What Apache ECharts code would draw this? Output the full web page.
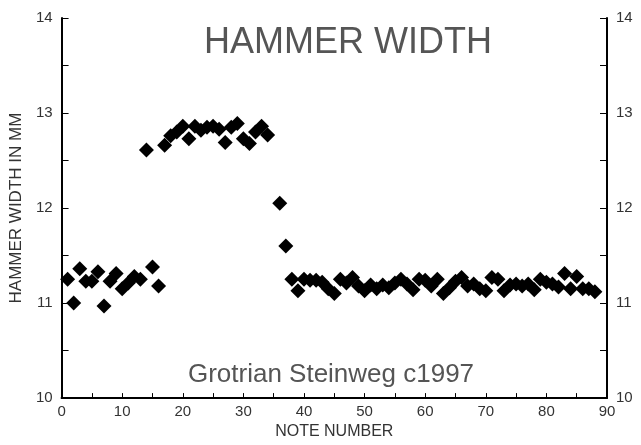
<!DOCTYPE html>
<html lang="en">
<head>
    <meta charset="UTF-8">
    <title>hammer width</title>
    <script src="https://cdn.jsdelivr.net/npm/echarts@6/dist/echarts.min.js"></script>
    <style>
        html, body { margin: 0; padding: 0; background: #fff; }
        #chart { width: 641px; height: 445px; }
    </style>
</head>
<body>
<div id="chart"></div>
<script>
    // note numbers and measured hammer widths (mm)
    var notes = [1, 2, 3, 4, 5, 6, 7, 8, 9, 10, 11, 12, 13, 14, 15, 16,
        17, 18, 19, 20, 21, 22, 23, 24, 25, 26, 27, 28, 29, 30, 31, 32, 33, 34,
        36, 37,
        38, 39, 40, 41, 42, 43, 44, 45, 46, 47, 48, 49, 50, 51, 52, 53, 54, 55, 56, 57,
        58, 59, 60, 61, 62, 63, 64, 65, 66, 67, 68, 69, 70, 71, 72, 73, 74, 75, 76, 77,
        78, 79, 80, 81, 82, 83, 84, 85, 86, 87, 88];
    var widths = [11.25, 11.0, 11.36, 11.23, 11.23, 11.33, 10.97, 11.23, 11.31, 11.15, 11.21, 11.28, 11.25, 12.61, 11.38, 11.18,
        12.66, 12.76, 12.80, 12.86, 12.73, 12.86, 12.82, 12.85, 12.86, 12.83, 12.69, 12.85, 12.89, 12.73, 12.68, 12.80, 12.86, 12.77,
        12.05, 11.60,
        11.25, 11.13, 11.25, 11.24, 11.24, 11.22, 11.15, 11.10, 11.25, 11.21, 11.27, 11.18, 11.13, 11.19, 11.15, 11.19, 11.16, 11.21, 11.25, 11.20,
        11.14, 11.25, 11.24, 11.18, 11.25, 11.10, 11.16, 11.23, 11.27, 11.18, 11.20, 11.15, 11.13, 11.27, 11.25, 11.13, 11.19, 11.20, 11.18, 11.20,
        11.14, 11.25, 11.22, 11.20, 11.17, 11.31, 11.15, 11.28, 11.15, 11.15, 11.12];

    var titleText = 'HAMMER WIDTH';
    var noteText = 'Grotrian Steinweg c1997';

    var source = [];
    for (var i = 0; i < notes.length; i++) {
        source.push([notes[i], widths[i]]);
    }

    var font = "'Liberation Sans', Arial, sans-serif";
    var labelStyle = {color: '#333', fontSize: 15, fontFamily: font};

    function yAxisCfg(pos) {
        return {
            type: 'value', position: pos, min: 10, max: 14, interval: 1,
            axisLine: {show: true, lineStyle: {color: '#000', width: 2}},
            axisTick: {show: true, inside: true, length: 7, lineStyle: {color: '#000'}},
            minorTick: {show: true, splitNumber: 2, length: 7, lineStyle: {color: '#000'}},
            splitLine: {show: false},
            axisLabel: Object.assign({margin: 9}, labelStyle)
        };
    }

    var myChart = echarts.init(document.getElementById('chart'), null, {renderer: 'canvas'});
    myChart.setOption({
        animation: false,
        backgroundColor: '#fff',
        grid: {left: 61, right: 34, top: 18, bottom: 44},
        title: [
            {text: titleText, left: 343, top: 20, textAlign: 'center',
                textStyle: {fontSize: 36, fontWeight: 'normal', color: '#555', fontFamily: font}},
            {text: noteText, left: 326, top: 357, textAlign: 'center',
                textStyle: {fontSize: 26, fontWeight: 'normal', color: '#555', fontFamily: font}}
        ],
        xAxis: {
            type: 'value', min: 0, max: 90, interval: 10,
            name: 'NOTE NUMBER', nameLocation: 'middle', nameGap: 24,
            nameTextStyle: {fontSize: 16, color: '#333', fontFamily: font},
            axisLine: {show: true, lineStyle: {color: '#000', width: 2}},
            axisTick: {show: true, inside: true, length: 5, lineStyle: {color: '#000'}},
            minorTick: {show: true, splitNumber: 2, length: 5, lineStyle: {color: '#000'}},
            splitLine: {show: false},
            axisLabel: Object.assign({margin: 6}, labelStyle)
        },
        yAxis: [
            Object.assign(yAxisCfg('left'), {
                name: 'HAMMER WIDTH IN MM', nameLocation: 'middle', nameGap: 36,
                nameTextStyle: {fontSize: 17, color: '#333', fontFamily: font}
            }),
            yAxisCfg('right')
        ],
        series: [{
            type: 'scatter',
            data: source,
            symbol: 'diamond',
            symbolSize: [15, 15],
            itemStyle: {color: '#000', opacity: 1}
        }]
    });
</script>
</body>
</html>
